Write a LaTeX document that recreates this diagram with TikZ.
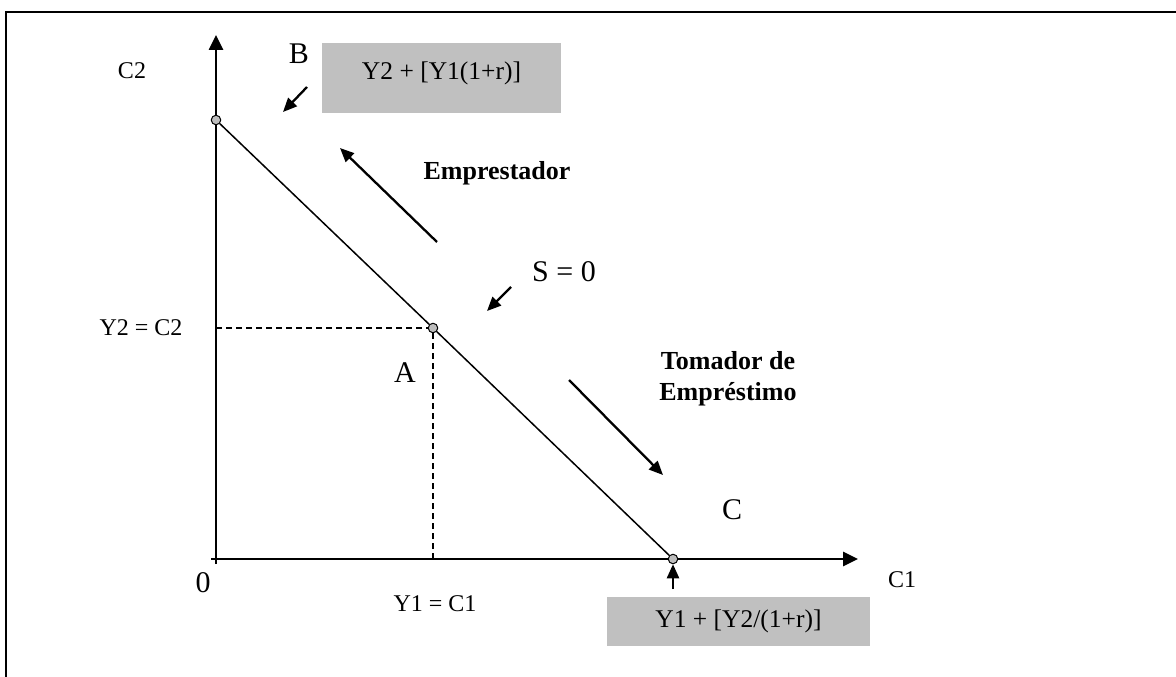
\documentclass[tikz,border=0pt]{standalone}
\usepackage{fontspec}
\setmainfont{Liberation Serif}
\usetikzlibrary{arrows.meta}
\definecolor{boxgray}{HTML}{C0C0C0}
\definecolor{dotgray}{HTML}{BDBDBD}
\begin{document}
\begin{tikzpicture}[x=1pt,y=-1pt,
  frameline/.style={line width=2pt},
  axisline/.style={line width=2.6pt,-{Triangle[length=15pt,width=14pt]}},
  pointer/.style={line width=2.3pt,-{Triangle[length=14pt,width=12pt]}},
  budget/.style={line width=1.5pt},
  guide/.style={line width=1.4pt,dash pattern=on 6pt off 4pt},
  dot/.style={circle,draw,fill=dotgray,line width=1pt,inner sep=0pt,minimum size=9.5pt},
  lbl/.style={font=\fontsize{24}{28}\selectfont},
  biglbl/.style={font=\fontsize{30}{34}\selectfont},
  boldlbl/.style={font=\fontsize{26}{31}\selectfont\bfseries,align=center},
  gbox/.style={fill=boxgray,draw=none,font=\fontsize{25.5}{29}\selectfont,inner sep=0pt}
]
\useasboundingbox (0,0) rectangle (1176,677);
% frame
\draw[frameline] (6,677) -- (6,12) -- (1176,12);
% axes
\coordinate (O) at (216,559);
\coordinate (Obelow) at (216,564);
\coordinate (Oleft) at (211,559);
\coordinate (Ytop) at (216,35);
\coordinate (Xend) at (858,559);
\draw[axisline] (Obelow) -- (Ytop);
\draw[axisline] (Oleft) -- (Xend);
% points
\node[dot] (pB) at (216,120) {};
\node[dot] (pA) at (433,328) {};
\node[dot] (pC) at (673,559) {};
\draw[budget] (pB) -- (pA) -- (pC);
% guides
\coordinate (yA) at (216,328);
\coordinate (xA) at (433,559);
\draw[guide] (yA) -- (pA);
\draw[guide] (pA) -- (xA);
% labels
\node[lbl] (lC2) at (132,71) {C2};
\node[lbl] (lC1) at (902,580) {C1};
\node[lbl,anchor=east] (lY2) at (186,328) {Y2 = C2};
\node[lbl] (lY1) at (435,604) {Y1 = C1};
\node[biglbl] (l0) at (203,583) {0};
\node[biglbl] (lB) at (299,54) {B};
\node[biglbl] (lA) at (405,373) {A};
\node[biglbl] (lC) at (732,510) {C};
\node[biglbl] (lS) at (564,272) {S = 0};
\node[boldlbl] (lEmp) at (497,173) {Emprestador};
\node[boldlbl] (lTom) at (728,379) {Tomador de\\Empréstimo};
% boxes
\node[gbox,minimum width=239pt,minimum height=70pt,text depth=14pt] (boxB) at (441.5,78) {Y2 + [Y1(1+r)]};
\node[gbox,minimum width=263pt,minimum height=49pt] (boxC) at (738.5,621.5) {Y1 + [Y2/(1+r)]};
% pointer arrows
\coordinate (aB1) at (307,87);
\coordinate (aB2) at (283,112);
\draw[pointer] (aB1) -- (aB2);
\coordinate (aS1) at (511,287);
\coordinate (aS2) at (487,311);
\draw[pointer] (aS1) -- (aS2);
\coordinate (aE1) at (437,242);
\coordinate (aE2) at (340,148);
\draw[pointer] (aE1) -- (aE2);
\coordinate (aT1) at (569,380);
\coordinate (aT2) at (663,475);
\draw[pointer] (aT1) -- (aT2);
\coordinate (aC1) at (673,589);
\draw[pointer] (aC1) -- (pC);
\end{tikzpicture}
\end{document}
